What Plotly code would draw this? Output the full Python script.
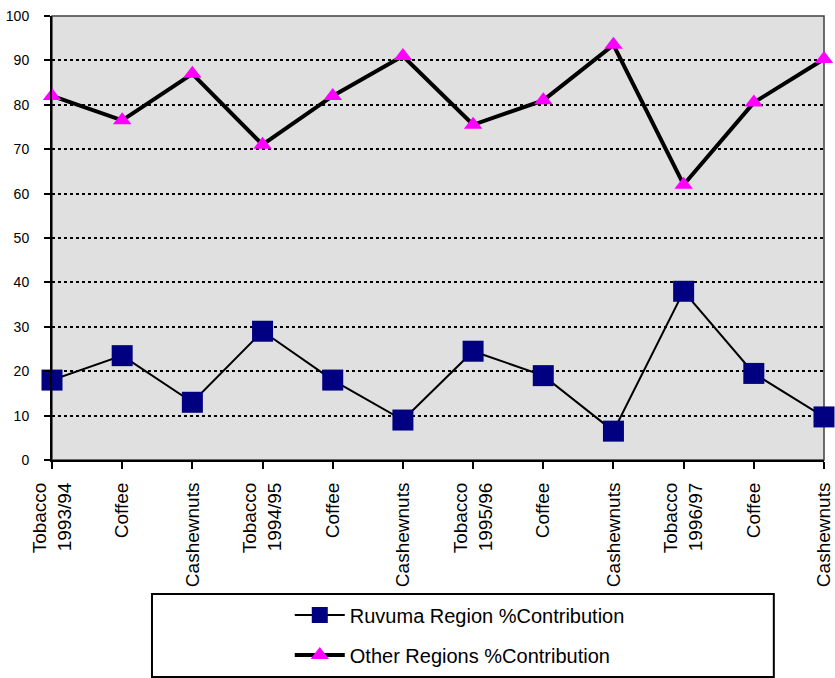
import plotly.graph_objects as go

# Commodity / season labels along the x axis
categories = [
    "Tobacco<br>1993/94", "Coffee", "Cashewnuts",
    "Tobacco<br>1994/95", "Coffee", "Cashewnuts",
    "Tobacco<br>1995/96", "Coffee", "Cashewnuts",
    "Tobacco<br>1996/97", "Coffee", "Cashewnuts",
]

# Percentage contribution by region
ruvuma = [18, 23.5, 13, 29, 18, 9, 24.5, 19, 6.5, 38, 19.5, 9.7]
other_regions = [82, 76.5, 87, 71, 82, 91, 75.5, 81, 93.5, 62, 80.5, 90.3]

y_ticks = list(range(0, 101, 10))

x_idx = list(range(len(categories)))

fig = go.Figure()

fig.add_trace(go.Scatter(
    x=x_idx, y=ruvuma, mode="lines+markers",
    name="Ruvuma Region %Contribution",
    legendgroup="a",
    line=dict(color="black", width=2),
    marker=dict(symbol="square", size=21, color="#000080"),
    cliponaxis=False,
))
fig.add_trace(go.Scatter(
    x=x_idx, y=other_regions, mode="lines+markers",
    name="Other Regions %Contribution",
    legendgroup="b",
    line=dict(color="black", width=4),
    marker=dict(symbol="triangle-up", size=16, color="#FF00FF"),
    cliponaxis=False,
))

# plot-area border (top/right drawn thin), legend frame
fig.add_shape(type="rect", xref="paper", yref="paper", x0=0, x1=1, y0=0, y1=1,
              line=dict(color="#404040", width=1.5), layer="below")
fig.add_shape(type="rect", xref="paper", yref="paper",
              x0=0.1295, x1=0.935, y0=-0.4887, y1=-0.3018,
              line=dict(color="black", width=2), fillcolor="white")

fig.update_layout(
    width=835, height=678,
    margin=dict(l=52, r=11, t=16, b=218, autoexpand=False),
    paper_bgcolor="white",
    plot_bgcolor="#E0E0E0",
    font=dict(family="Arial, Liberation Sans, sans-serif", color="black"),
    showlegend=True,
    legend=dict(
        x=0.308, y=-0.305, xanchor="left", yanchor="top",
        bgcolor="rgba(0,0,0,0)", borderwidth=0,
        font=dict(size=20, color="black"),
        traceorder="grouped", tracegroupgap=11,
        itemsizing="trace", itemwidth=50,
    ),
)

fig.update_xaxes(
    range=[0, 11],
    tickmode="array", tickvals=x_idx, ticktext=categories,
    tickangle=-90,
    tickfont=dict(size=19, color="black"),
    ticks="outside", ticklen=7, tickwidth=2, tickcolor="black",
    showline=True, linecolor="black", linewidth=2,
    showgrid=False, zeroline=False, automargin=False,
    ticklabelstandoff=6,
)
fig.update_yaxes(
    range=[0, 100],
    tickmode="array", tickvals=y_ticks,
    tickfont=dict(size=14, color="black"),
    ticks="outside", ticklen=6, tickwidth=2, tickcolor="black",
    showline=True, linecolor="black", linewidth=2,
    showgrid=True, gridcolor="black", griddash="dot", gridwidth=1.5,
    zeroline=False, automargin=False,
    ticklabelstandoff=12,
)

fig.write_html("out.html")
